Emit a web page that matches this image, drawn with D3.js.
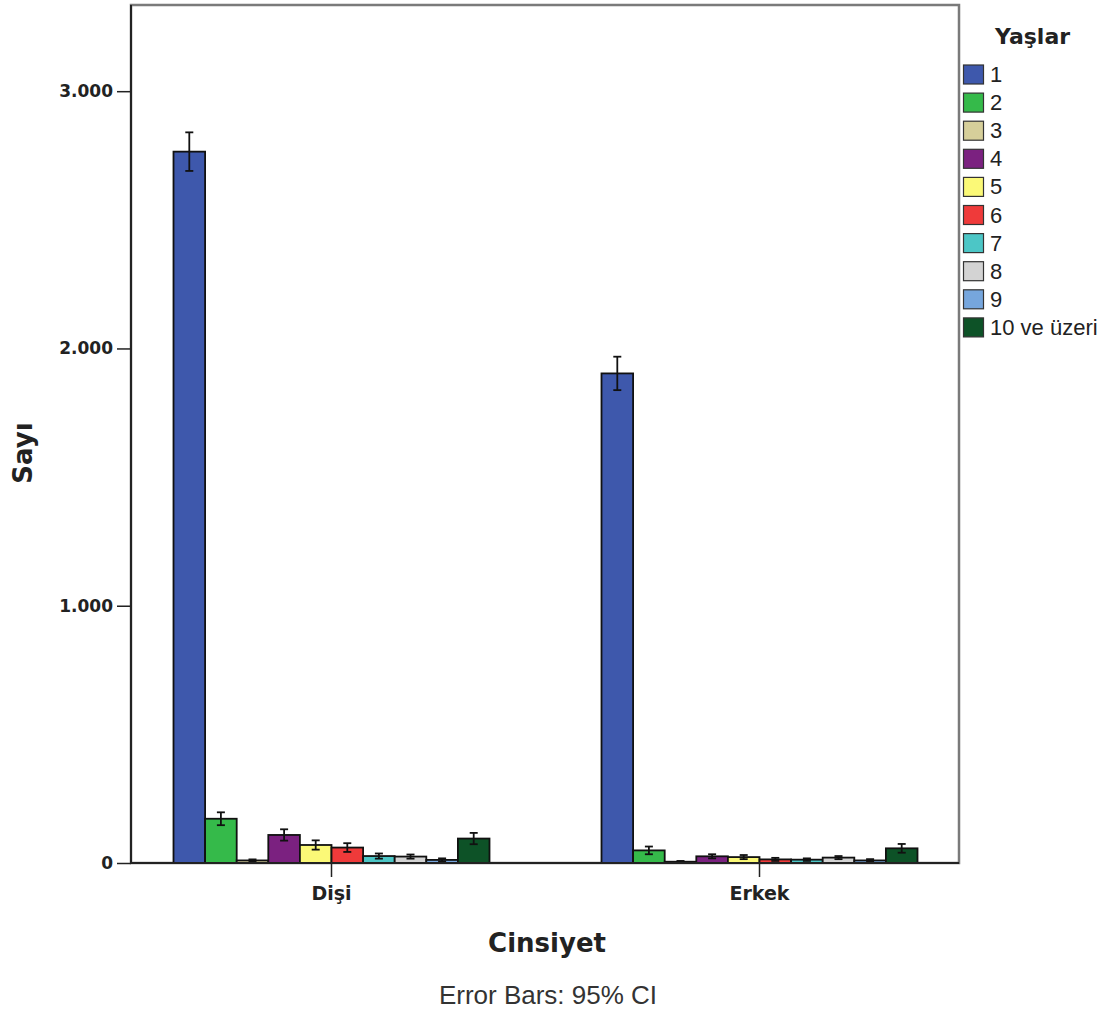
<!DOCTYPE html>
<html><head><meta charset="utf-8">
<script src="https://cdn.jsdelivr.net/npm/d3@7"></script>
<style>body{margin:0;background:#fff}svg{display:block}</style>
</head><body>
<svg id="c" width="1116" height="1016"></svg>
<script>
const categories = ["Dişi", "Erkek"];
const series = ["1","2","3","4","5","6","7","8","9","10 ve üzeri"];
const colors = ["#3e58ac","#35ba4a","#d6cf9a","#7b2180","#fbf977","#ef3a3a","#4cc6c6","#d3d3d3","#76a6dd","#0d5227"];
const valuesDisi  = [2765, 172, 10, 109, 70, 60, 27, 25, 12, 95];
const errorsDisi  = [75, 25, 4, 22, 18, 17, 10, 8, 6, 22];
const valuesErkek = [1903, 49, 5, 26, 23, 14, 13, 21, 10, 57];
const errorsErkek = [65, 15, 3, 8, 8, 6, 5, 6, 5, 17];
const yTicks = [0, 1000, 2000, 3000];
const yTickLabels = ["0", "1.000", "2.000", "3.000"];

const values = [valuesDisi, valuesErkek];
const errors = [errorsDisi, errorsErkek];

const svg = d3.select("#c");
const pL = 131, pR = 959, pT = 5, pB = 863;

const y = d3.scaleLinear().domain([0, 3335]).range([pB, pT]);
const x = d3.scaleBand().domain(categories).range([117.5, 973.5]).padding(0);
const xs = d3.scaleBand().domain(series).range([0, 316]).padding(0);

// frame
svg.append("rect").attr("x", pL).attr("y", pT).attr("width", pR-pL).attr("height", pB-pT)
  .attr("fill", "none").attr("stroke", "#7a7a7a").attr("stroke-width", 2.5);

// bars
categories.forEach((c, ci) => {
  const g = svg.append("g").attr("transform", `translate(${x(c) + x.bandwidth()/2 - 158},0)`);
  series.forEach((s, si) => {
    const v = values[ci][si], e = errors[ci][si];
    g.append("rect").attr("x", xs(s)).attr("y", y(v)).attr("width", xs.bandwidth()).attr("height", y(0) - y(v))
      .attr("fill", colors[si]).attr("stroke", "#111").attr("stroke-width", 1.8);
    const cx = xs(s) + xs.bandwidth()/2;
    const y1 = y(v + e), y2 = y(Math.max(0, v - e));
    g.append("line").attr("x1", cx).attr("x2", cx).attr("y1", y1).attr("y2", y2).attr("stroke", "#111").attr("stroke-width", 1.8);
    [y1, y2].forEach(yy => g.append("line").attr("x1", cx-4).attr("x2", cx+4).attr("y1", yy).attr("y2", yy).attr("stroke", "#111").attr("stroke-width", 1.8));
  });
});

// axes
const yAxis = d3.axisLeft(y).tickValues(yTicks).tickFormat((d, i) => yTickLabels[i]).tickSize(14).tickPadding(4);
const ga = svg.append("g").attr("transform", `translate(${pL},0)`).call(yAxis);
ga.select(".domain").attr("stroke", "#222").attr("stroke-width", 2).attr("d", `M0,${pT}V${pB}`);
ga.selectAll(".tick line").attr("stroke", "#222").attr("stroke-width", 1.5);
ga.selectAll(".tick text").attr("font-family", "DejaVu Sans").attr("font-weight", "bold").attr("font-size", 17).attr("fill", "#222");

const xAxis = d3.axisBottom(x).tickSize(14).tickPadding(10);
const gx = svg.append("g").attr("transform", `translate(0,${pB})`).call(xAxis);
gx.select(".domain").attr("stroke", "#222").attr("stroke-width", 2).attr("d", `M${pL},0H${pR}`);
gx.selectAll(".tick line").attr("stroke", "#222").attr("stroke-width", 1.5);
gx.selectAll(".tick text").attr("font-family", "DejaVu Sans").attr("font-weight", "bold").attr("font-size", 19).attr("fill", "#222");

// titles
svg.append("text").attr("x", 547).attr("y", 952).attr("text-anchor", "middle")
  .attr("font-family", "DejaVu Sans").attr("font-weight", "bold").attr("font-size", 26).attr("fill", "#222").text("Cinsiyet");
svg.append("text").attr("transform", "translate(32,453) rotate(-90)").attr("text-anchor", "middle")
  .attr("font-family", "DejaVu Sans").attr("font-weight", "bold").attr("font-size", 26).attr("fill", "#222").text("Sayı");
svg.append("text").attr("x", 548).attr("y", 1004).attr("text-anchor", "middle")
  .attr("font-family", "Liberation Sans, Arial").attr("font-size", 26).attr("fill", "#333").text("Error Bars: 95% CI");

// legend
svg.append("text").attr("x", 995).attr("y", 44).attr("font-family", "DejaVu Sans").attr("font-weight", "bold")
  .attr("font-size", 22).attr("fill", "#222").text("Yaşlar");
const lg = svg.append("g");
series.forEach((s, i) => {
  const yy = 65 + i * 28.1;
  lg.append("rect").attr("x", 963.5).attr("y", yy).attr("width", 20).attr("height", 19)
    .attr("fill", colors[i]).attr("stroke", "#333").attr("stroke-width", 1.2);
  lg.append("text").attr("x", 990).attr("y", yy + 17).attr("font-family", "Liberation Sans, Arial")
    .attr("font-size", 22).attr("fill", "#222").text(s);
});
</script>
</body></html>
